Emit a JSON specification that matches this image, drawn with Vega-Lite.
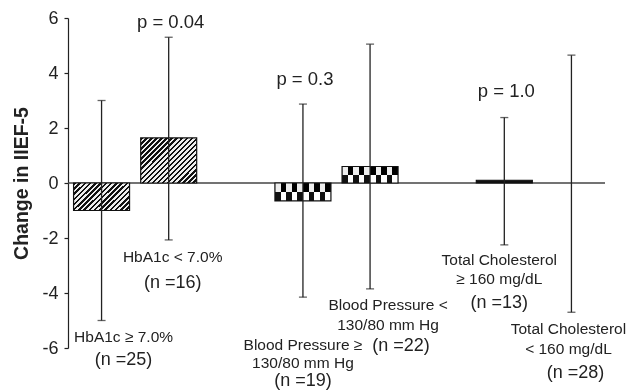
{
  "$schema": "https://vega.github.io/schema/vega-lite/v6.json",
  "autosize": "none",
  "width": 537,
  "height": 330,
  "padding": {"left": 68, "top": 18, "right": 24, "bottom": 43},
  "background": "white",
  "config": {
    "view": {"stroke": null},
    "axisY": {
      "labelFont": "Liberation Sans", "labelFontSize": 18, "labelColor": "#222", "labelPadding": 6,
      "tickColor": "#222", "tickSize": 4, "tickWidth": 1.2, "domainColor": "#222", "domainWidth": 1.2,
      "grid": false, "titleFont": "Liberation Sans", "titleFontSize": 19.5, "titleFontWeight": "bold",
      "titleColor": "#222", "titlePadding": 10
    },
    "text": {"font": "Liberation Sans", "color": "#222", "baseline": "middle", "align": "center"}
  },
  "datasets": {
    "bars": [
      {"cat": "HbA1c ≥ 7.0%", "group": "HbA1c", "mean": -1.0, "lo": -5.0, "hi": 3.0},
      {"cat": "HbA1c < 7.0%", "group": "HbA1c", "mean": 1.64, "lo": -2.07, "hi": 5.3},
      {"cat": "BP ≥", "group": "BP", "mean": -0.65, "lo": -4.15, "hi": 2.87},
      {"cat": "BP <", "group": "BP", "mean": 0.6, "lo": -3.85, "hi": 5.05},
      {"cat": "TC ≥", "group": "TC", "mean": 0.1, "lo": -2.25, "hi": 2.38},
      {"cat": "TC <", "group": "TC", "mean": 0.0, "lo": -4.7, "hi": 4.65}
    ],
    "notes": [
      {"cat": "HbA1c < 7.0%", "kind": "p", "y": 5.85, "text": "p = 0.04"},
      {"cat": "BP ≥", "kind": "p", "y": 3.78, "text": "p = 0.3"},
      {"cat": "TC ≥", "kind": "p", "y": 3.35, "text": "p = 1.0"},
      {"cat": "HbA1c ≥ 7.0%", "kind": "label", "y": -5.6, "text": "HbA1c ≥ 7.0%"},
      {"cat": "HbA1c ≥ 7.0%", "kind": "n", "y": -6.44, "text": "(n =25)"},
      {"cat": "HbA1c < 7.0%", "kind": "label", "y": -2.69, "text": "HbA1c < 7.0%"},
      {"cat": "HbA1c < 7.0%", "kind": "n", "y": -3.64, "text": "(n =16)"},
      {"cat": "BP ≥", "kind": "label", "y": -5.89, "text": "Blood Pressure ≥"},
      {"cat": "BP ≥", "kind": "label", "y": -6.55, "text": "130/80 mm Hg"},
      {"cat": "BP ≥", "kind": "n", "y": -7.2, "text": "(n =19)"},
      {"cat": "BP <", "kind": "label", "y": -4.44, "text": "Blood Pressure <"},
      {"cat": "BP <", "kind": "label", "y": -5.16, "text": "130/80 mm Hg"},
      {"cat": "BP <", "kind": "n", "y": -5.93, "text": "(n =22)"},
      {"cat": "TC ≥", "kind": "label", "y": -2.8, "text": "Total Cholesterol"},
      {"cat": "TC ≥", "kind": "label", "y": -3.49, "text": "≥ 160 mg/dL"},
      {"cat": "TC ≥", "kind": "n", "y": -4.36, "text": "(n =13)"},
      {"cat": "TC <", "kind": "label", "y": -5.31, "text": "Total Cholesterol"},
      {"cat": "TC <", "kind": "label", "y": -6.04, "text": "< 160 mg/dL"},
      {"cat": "TC <", "kind": "n", "y": -6.91, "text": "(n =28)"}
    ]
  },
  "layer": [
    {
      "data": {"values": [{}]},
      "mark": {"type": "rule", "color": "#444", "strokeWidth": 1.5},
      "encoding": {"y": {"datum": 0, "type": "quantitative", "title": "Change in IIEF-5"}}
    },
    {
      "data": {"name": "bars"},
      "transform": [{"filter": "datum.cat === 'HbA1c ≥ 7.0%'"}],
      "mark": {"type": "bar", "fill": {"gradient": "linear", "x1": 0, "y1": 0, "x2": 1.2, "y2": 0.6, "stops": [
        {"offset": 0, "color": "#111"}, {"offset": 0.03125, "color": "#111"}, {"offset": 0.03125, "color": "#eee"}, {"offset": 0.0625, "color": "#eee"},
        {"offset": 0.0625, "color": "#111"}, {"offset": 0.09375, "color": "#111"}, {"offset": 0.09375, "color": "#eee"}, {"offset": 0.125, "color": "#eee"},
        {"offset": 0.125, "color": "#111"}, {"offset": 0.15625, "color": "#111"}, {"offset": 0.15625, "color": "#eee"}, {"offset": 0.1875, "color": "#eee"},
        {"offset": 0.1875, "color": "#111"}, {"offset": 0.21875, "color": "#111"}, {"offset": 0.21875, "color": "#eee"}, {"offset": 0.25, "color": "#eee"},
        {"offset": 0.25, "color": "#111"}, {"offset": 0.28125, "color": "#111"}, {"offset": 0.28125, "color": "#eee"}, {"offset": 0.3125, "color": "#eee"},
        {"offset": 0.3125, "color": "#111"}, {"offset": 0.34375, "color": "#111"}, {"offset": 0.34375, "color": "#eee"}, {"offset": 0.375, "color": "#eee"},
        {"offset": 0.375, "color": "#111"}, {"offset": 0.40625, "color": "#111"}, {"offset": 0.40625, "color": "#eee"}, {"offset": 0.4375, "color": "#eee"},
        {"offset": 0.4375, "color": "#111"}, {"offset": 0.46875, "color": "#111"}, {"offset": 0.46875, "color": "#eee"}, {"offset": 0.5, "color": "#eee"},
        {"offset": 0.5, "color": "#111"}, {"offset": 0.53125, "color": "#111"}, {"offset": 0.53125, "color": "#eee"}, {"offset": 0.5625, "color": "#eee"},
        {"offset": 0.5625, "color": "#111"}, {"offset": 0.59375, "color": "#111"}, {"offset": 0.59375, "color": "#eee"}, {"offset": 0.625, "color": "#eee"},
        {"offset": 0.625, "color": "#111"}, {"offset": 0.65625, "color": "#111"}, {"offset": 0.65625, "color": "#eee"}, {"offset": 0.6875, "color": "#eee"},
        {"offset": 0.6875, "color": "#111"}, {"offset": 0.71875, "color": "#111"}, {"offset": 0.71875, "color": "#eee"}, {"offset": 0.75, "color": "#eee"},
        {"offset": 0.75, "color": "#111"}, {"offset": 0.78125, "color": "#111"}, {"offset": 0.78125, "color": "#eee"}, {"offset": 0.8125, "color": "#eee"},
        {"offset": 0.8125, "color": "#111"}, {"offset": 0.84375, "color": "#111"}, {"offset": 0.84375, "color": "#eee"}, {"offset": 0.875, "color": "#eee"},
        {"offset": 0.875, "color": "#111"}, {"offset": 0.90625, "color": "#111"}, {"offset": 0.90625, "color": "#eee"}, {"offset": 0.9375, "color": "#eee"},
        {"offset": 0.9375, "color": "#111"}, {"offset": 0.96875, "color": "#111"}, {"offset": 0.96875, "color": "#eee"}, {"offset": 1, "color": "#eee"}
      ]}},
      "encoding": {
        "x": {"field": "cat", "type": "nominal", "axis": null, "scale": {"domain": ["HbA1c ≥ 7.0%", "HbA1c < 7.0%", "gap 1", "BP ≥", "BP <", "gap 2", "TC ≥", "TC <"], "paddingInner": 0.166, "paddingOuter": 0.083}},
        "y": {"field": "mean", "type": "quantitative", "title": "Change in IIEF-5", "scale": {"domain": [-6, 6], "nice": false}, "axis": {"values": [-6, -4, -2, 0, 2, 4, 6], "labelExpr": "'' + datum.value"}}
      }
    },
    {
      "data": {"name": "bars"},
      "transform": [{"filter": "datum.cat === 'HbA1c < 7.0%'"}],
      "mark": {"type": "bar", "fill": {"gradient": "linear", "x1": 0, "y1": 0, "x2": 1.096, "y2": 0.881, "stops": [
        {"offset": 0, "color": "#111"}, {"offset": 0.025, "color": "#111"}, {"offset": 0.025, "color": "#eee"}, {"offset": 0.05, "color": "#eee"},
        {"offset": 0.05, "color": "#111"}, {"offset": 0.075, "color": "#111"}, {"offset": 0.075, "color": "#eee"}, {"offset": 0.1, "color": "#eee"},
        {"offset": 0.1, "color": "#111"}, {"offset": 0.125, "color": "#111"}, {"offset": 0.125, "color": "#eee"}, {"offset": 0.15, "color": "#eee"},
        {"offset": 0.15, "color": "#111"}, {"offset": 0.175, "color": "#111"}, {"offset": 0.175, "color": "#eee"}, {"offset": 0.2, "color": "#eee"},
        {"offset": 0.2, "color": "#111"}, {"offset": 0.225, "color": "#111"}, {"offset": 0.225, "color": "#eee"}, {"offset": 0.25, "color": "#eee"},
        {"offset": 0.25, "color": "#111"}, {"offset": 0.275, "color": "#111"}, {"offset": 0.275, "color": "#eee"}, {"offset": 0.3, "color": "#eee"},
        {"offset": 0.3, "color": "#111"}, {"offset": 0.325, "color": "#111"}, {"offset": 0.325, "color": "#eee"}, {"offset": 0.35, "color": "#eee"},
        {"offset": 0.35, "color": "#111"}, {"offset": 0.375, "color": "#111"}, {"offset": 0.375, "color": "#eee"}, {"offset": 0.4, "color": "#eee"},
        {"offset": 0.4, "color": "#111"}, {"offset": 0.425, "color": "#111"}, {"offset": 0.425, "color": "#eee"}, {"offset": 0.45, "color": "#eee"},
        {"offset": 0.45, "color": "#111"}, {"offset": 0.475, "color": "#111"}, {"offset": 0.475, "color": "#eee"}, {"offset": 0.5, "color": "#eee"},
        {"offset": 0.5, "color": "#111"}, {"offset": 0.525, "color": "#111"}, {"offset": 0.525, "color": "#eee"}, {"offset": 0.55, "color": "#eee"},
        {"offset": 0.55, "color": "#111"}, {"offset": 0.575, "color": "#111"}, {"offset": 0.575, "color": "#eee"}, {"offset": 0.6, "color": "#eee"},
        {"offset": 0.6, "color": "#111"}, {"offset": 0.625, "color": "#111"}, {"offset": 0.625, "color": "#eee"}, {"offset": 0.65, "color": "#eee"},
        {"offset": 0.65, "color": "#111"}, {"offset": 0.675, "color": "#111"}, {"offset": 0.675, "color": "#eee"}, {"offset": 0.7, "color": "#eee"},
        {"offset": 0.7, "color": "#111"}, {"offset": 0.725, "color": "#111"}, {"offset": 0.725, "color": "#eee"}, {"offset": 0.75, "color": "#eee"},
        {"offset": 0.75, "color": "#111"}, {"offset": 0.775, "color": "#111"}, {"offset": 0.775, "color": "#eee"}, {"offset": 0.8, "color": "#eee"},
        {"offset": 0.8, "color": "#111"}, {"offset": 0.825, "color": "#111"}, {"offset": 0.825, "color": "#eee"}, {"offset": 0.85, "color": "#eee"},
        {"offset": 0.85, "color": "#111"}, {"offset": 0.875, "color": "#111"}, {"offset": 0.875, "color": "#eee"}, {"offset": 0.9, "color": "#eee"},
        {"offset": 0.9, "color": "#111"}, {"offset": 0.925, "color": "#111"}, {"offset": 0.925, "color": "#eee"}, {"offset": 0.95, "color": "#eee"},
        {"offset": 0.95, "color": "#111"}, {"offset": 0.975, "color": "#111"}, {"offset": 0.975, "color": "#eee"}, {"offset": 1, "color": "#eee"}
      ]}},
      "encoding": {
        "x": {"field": "cat", "type": "nominal", "axis": null},
        "y": {"field": "mean", "type": "quantitative", "title": "Change in IIEF-5"}
      }
    },
    {
      "data": {"name": "bars"},
      "transform": [{"filter": "datum.group === 'BP'"}],
      "mark": {"type": "bar", "fill": {"gradient": "linear", "x1": 0, "y1": 0, "x2": 1, "y2": 0, "stops": [
        {"offset": 0, "color": "#111"}, {"offset": 0.1, "color": "#111"}, {"offset": 0.1, "color": "#fff"}, {"offset": 0.2, "color": "#fff"},
        {"offset": 0.2, "color": "#111"}, {"offset": 0.3, "color": "#111"}, {"offset": 0.3, "color": "#fff"}, {"offset": 0.4, "color": "#fff"},
        {"offset": 0.4, "color": "#111"}, {"offset": 0.5, "color": "#111"}, {"offset": 0.5, "color": "#fff"}, {"offset": 0.6, "color": "#fff"},
        {"offset": 0.6, "color": "#111"}, {"offset": 0.7, "color": "#111"}, {"offset": 0.7, "color": "#fff"}, {"offset": 0.8, "color": "#fff"},
        {"offset": 0.8, "color": "#111"}, {"offset": 0.9, "color": "#111"}, {"offset": 0.9, "color": "#fff"}, {"offset": 1, "color": "#fff"}
      ]}},
      "encoding": {
        "x": {"field": "cat", "type": "nominal", "axis": null},
        "y": {"field": "mean", "type": "quantitative", "title": "Change in IIEF-5"}
      }
    },
    {
      "data": {"name": "bars"},
      "transform": [{"filter": "datum.group === 'BP'"}],
      "mark": {"type": "bar", "blend": "difference", "fill": {"gradient": "linear", "x1": 0, "y1": 0, "x2": 0, "y2": 1, "stops": [
        {"offset": 0, "color": "#fff"}, {"offset": 0.5, "color": "#fff"}, {"offset": 0.5, "color": "#000"}, {"offset": 1, "color": "#000"}
      ]}},
      "encoding": {
        "x": {"field": "cat", "type": "nominal", "axis": null},
        "y": {"field": "mean", "type": "quantitative", "title": "Change in IIEF-5"}
      }
    },
    {
      "data": {"name": "bars"},
      "transform": [{"filter": "datum.group === 'TC'"}],
      "mark": {"type": "bar", "fill": "#111"},
      "encoding": {
        "x": {"field": "cat", "type": "nominal", "axis": null},
        "y": {"field": "mean", "type": "quantitative", "title": "Change in IIEF-5"}
      }
    },
    {
      "data": {"name": "bars"},
      "transform": [{"filter": "datum.mean !== 0"}],
      "mark": {"type": "bar", "fill": null, "fillOpacity": 0, "stroke": "#111", "strokeWidth": 1.2},
      "encoding": {
        "x": {"field": "cat", "type": "nominal", "axis": null},
        "y": {"field": "mean", "type": "quantitative", "title": "Change in IIEF-5"}
      }
    },
    {
      "data": {"name": "bars"},
      "mark": {"type": "rule", "color": "#222", "strokeWidth": 1.3},
      "encoding": {
        "x": {"field": "cat", "type": "nominal", "axis": null},
        "y": {"field": "lo", "type": "quantitative", "title": "Change in IIEF-5"},
        "y2": {"field": "hi"}
      }
    },
    {
      "data": {"name": "bars"},
      "mark": {"type": "tick", "color": "#222", "size": 8, "thickness": 1.3},
      "encoding": {
        "x": {"field": "cat", "type": "nominal", "axis": null},
        "y": {"field": "hi", "type": "quantitative", "title": "Change in IIEF-5"}
      }
    },
    {
      "data": {"name": "bars"},
      "mark": {"type": "tick", "color": "#222", "size": 8, "thickness": 1.3},
      "encoding": {
        "x": {"field": "cat", "type": "nominal", "axis": null},
        "y": {"field": "lo", "type": "quantitative", "title": "Change in IIEF-5"}
      }
    },
    {
      "data": {"name": "notes"},
      "transform": [{"filter": "datum.kind === 'p'"}],
      "mark": {"type": "text", "fontSize": 18.5, "dx": 2},
      "encoding": {
        "x": {"field": "cat", "type": "nominal", "axis": null},
        "y": {"field": "y", "type": "quantitative", "title": "Change in IIEF-5"},
        "text": {"field": "text"}
      }
    },
    {
      "data": {"name": "notes"},
      "transform": [{"filter": "datum.kind !== 'p' && datum.cat === 'HbA1c ≥ 7.0%'"}],
      "mark": {"type": "text", "dx": 22},
      "encoding": {
        "x": {"field": "cat", "type": "nominal", "axis": null},
        "y": {"field": "y", "type": "quantitative", "title": "Change in IIEF-5"},
        "text": {"field": "text"},
        "size": {"field": "kind", "type": "ordinal", "scale": {"domain": ["label", "n"], "range": [15.5, 18]}, "legend": null}
      }
    },
    {
      "data": {"name": "notes"},
      "transform": [{"filter": "datum.kind !== 'p' && datum.cat === 'HbA1c < 7.0%'"}],
      "mark": {"type": "text", "dx": 4},
      "encoding": {
        "x": {"field": "cat", "type": "nominal", "axis": null},
        "y": {"field": "y", "type": "quantitative", "title": "Change in IIEF-5"},
        "text": {"field": "text"},
        "size": {"field": "kind", "type": "ordinal", "legend": null}
      }
    },
    {
      "data": {"name": "notes"},
      "transform": [{"filter": "datum.kind !== 'p' && datum.cat === 'BP ≥'"}],
      "mark": {"type": "text", "dx": 0},
      "encoding": {
        "x": {"field": "cat", "type": "nominal", "axis": null},
        "y": {"field": "y", "type": "quantitative", "title": "Change in IIEF-5"},
        "text": {"field": "text"},
        "size": {"field": "kind", "type": "ordinal", "legend": null}
      }
    },
    {
      "data": {"name": "notes"},
      "transform": [{"filter": "datum.kind === 'label' && datum.cat === 'TC <'"}],
      "mark": {"type": "text", "dx": -3},
      "encoding": {
        "x": {"field": "cat", "type": "nominal", "axis": null},
        "y": {"field": "y", "type": "quantitative", "title": "Change in IIEF-5"},
        "text": {"field": "text"},
        "size": {"field": "kind", "type": "ordinal", "legend": null}
      }
    },
    {
      "data": {"name": "notes"},
      "transform": [{"filter": "datum.kind === 'n' && datum.cat === 'TC <'"}],
      "mark": {"type": "text", "dx": 4},
      "encoding": {
        "x": {"field": "cat", "type": "nominal", "axis": null},
        "y": {"field": "y", "type": "quantitative", "title": "Change in IIEF-5"},
        "text": {"field": "text"},
        "size": {"field": "kind", "type": "ordinal", "legend": null}
      }
    },
    {
      "data": {"name": "notes"},
      "transform": [{"filter": "datum.kind === 'label' && datum.cat === 'BP <'"}],
      "mark": {"type": "text", "dx": 18},
      "encoding": {
        "x": {"field": "cat", "type": "nominal", "axis": null},
        "y": {"field": "y", "type": "quantitative", "title": "Change in IIEF-5"},
        "text": {"field": "text"},
        "size": {"field": "kind", "type": "ordinal", "legend": null}
      }
    },
    {
      "data": {"name": "notes"},
      "transform": [{"filter": "datum.kind === 'n' && datum.cat === 'BP <'"}],
      "mark": {"type": "text", "dx": 31},
      "encoding": {
        "x": {"field": "cat", "type": "nominal", "axis": null},
        "y": {"field": "y", "type": "quantitative", "title": "Change in IIEF-5"},
        "text": {"field": "text"},
        "size": {"field": "kind", "type": "ordinal", "legend": null}
      }
    },
    {
      "data": {"name": "notes"},
      "transform": [{"filter": "datum.kind !== 'p' && datum.cat === 'TC ≥'"}],
      "mark": {"type": "text", "dx": -5},
      "encoding": {
        "x": {"field": "cat", "type": "nominal", "axis": null},
        "y": {"field": "y", "type": "quantitative", "title": "Change in IIEF-5"},
        "text": {"field": "text"},
        "size": {"field": "kind", "type": "ordinal", "legend": null}
      }
    }
  ]
}
